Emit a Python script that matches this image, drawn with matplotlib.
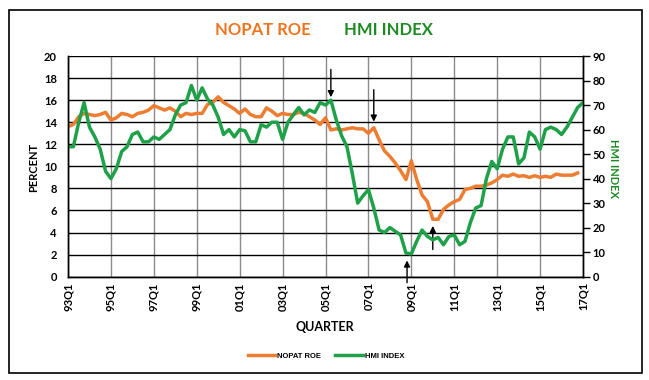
import numpy as np
import matplotlib.pyplot as plt
from matplotlib.lines import Line2D
from matplotlib.patches import Rectangle

# quarterly series, 93Q1 .. 17Q1
nopat_roe = [13.6, 13.8, 14.5, 14.8, 14.7, 14.6, 14.7, 14.9, 14.2, 14.4,
             14.8, 14.7, 14.5, 14.8, 14.9, 15.1, 15.5, 15.3, 15.1, 15.3,
             15.0, 14.5, 14.8, 14.7, 14.8, 14.8, 15.6, 15.8, 16.3, 15.8,
             15.5, 15.2, 14.8, 15.2, 14.7, 14.5, 14.5, 15.3, 15.0, 14.6,
             14.8, 14.7, 14.7, 14.9, 14.8, 14.5, 14.2, 13.8, 14.4, 13.3,
             13.4, 13.3, 13.4, 13.5, 13.4, 13.4, 13.0, 13.5, 12.4, 11.4,
             10.9, 10.3, 9.6, 8.8, 10.5, 8.8, 7.4, 6.8, 5.2, 5.2,
             6.1, 6.5, 6.8, 7.0, 7.9, 8.0, 8.2, 8.2, 8.3, 8.5,
             8.8, 9.2, 9.1, 9.3, 9.1, 9.15, 9.0, 9.15, 9.0, 9.1,
             9.0, 9.3, 9.2, 9.2, 9.2, 9.4]

hmi_index = [53, 53, 63, 71, 61, 57, 52, 43, 40, 44,
             51, 53, 58, 59, 55, 55, 57, 56, 58, 60,
             66, 70, 71, 78, 72, 77, 72.5, 70, 65, 58,
             60, 57, 60, 59.5, 55, 55, 62, 61, 63, 63,
             56, 63, 66, 69, 66, 68, 67, 71, 70, 72,
             64, 57.5, 53, 42, 30, 33, 35.5, 28, 19, 18,
             20, 18.5, 17, 9.6, 9.3, 14.4, 19, 16.4, 15, 16,
             13, 16.4, 17, 13, 14.4, 22, 28, 29, 40, 47,
             44, 52, 57, 57, 46, 48.5, 59, 57, 52, 60,
             61, 60, 58, 61, 65, 69, 71]

tick_labels = ['93Q1', '95Q1', '97Q1', '99Q1', '01Q1', '03Q1', '05Q1',
               '07Q1', '09Q1', '11Q1', '13Q1', '15Q1', '17Q1']

orange = '#ED7D31'
green = '#1FA14A'
title_orange = '#F0731E'
title_green = '#1E8A22'

plt.rcParams['font.family'] = ['Lato', 'DejaVu Sans']
plt.rcParams['font.weight'] = 'bold'

fig = plt.figure(figsize=(6.49, 3.80), dpi=100)
fig.patches.append(Rectangle((0.014, 0.018), 0.975, 0.956, transform=fig.transFigure,
                             fill=False, edgecolor='black', lw=1.2))

ax = fig.add_axes([0.1048, 0.272, 0.7935, 0.5805])
ax2 = ax.twinx()

ax.plot(np.arange(len(nopat_roe)), nopat_roe, color=orange, lw=2.5, solid_joinstyle='round')
ax2.plot(np.arange(len(hmi_index)), hmi_index, color=green, lw=2.5, solid_joinstyle='round')

ax.set_xlim(0, 96)
ax.set_ylim(0, 20)
ax2.set_ylim(0, 90)
ax.set_yticks(range(0, 21, 2))
ax2.set_yticks(range(0, 91, 10))
ax.set_xticks(range(0, 97, 8))
ax.set_xticklabels(tick_labels, rotation=90)

ax.grid(axis='y', color='black', lw=1)
ax.grid(axis='x', color='#8C8C8C', lw=1)
ax.set_axisbelow(True)

ax.tick_params(axis='y', length=0, pad=8, labelsize=8)
ax.tick_params(axis='x', length=0, pad=4, labelsize=8)
ax2.tick_params(axis='y', length=5, width=1, pad=2, labelsize=8)
for a in (ax, ax2):
    for s in a.spines.values():
        s.set_color('black')
        s.set_linewidth(1)
    a.spines['top'].set_visible(False)


# arrows pointing at turning points
def arrow(axis, q, val, length):
    axis.annotate('', xy=(q, val), xytext=(0, length), textcoords='offset points',
                  arrowprops=dict(arrowstyle='-|>', color='black', lw=1,
                                  mutation_scale=9, shrinkA=0, shrinkB=0),
                  annotation_clip=False)


arrow(ax2, 49, hmi_index[49] + 1.2, 20)
arrow(ax, 57, nopat_roe[57] + 0.55, 23)
arrow(ax2, 63.2, hmi_index[63] - 3, -16)
arrow(ax, 68, nopat_roe[68] - 0.6, -17)

fig.text(263 / 649, 1 - 30 / 380, 'NOPAT ROE', color=title_orange, fontsize=12,
         fontweight='bold', ha='center', va='center')
fig.text(388 / 649, 1 - 30 / 380, 'HMI INDEX', color=title_green, fontsize=12,
         fontweight='bold', ha='center', va='center')
fig.text(34 / 649, 1 - 167 / 380, 'PERCENT', rotation=90, fontsize=8,
         fontweight='bold', ha='center', va='center')
fig.text(614 / 649, 1 - 168 / 380, 'HMI INDEX', rotation=-90, fontsize=8,
         fontweight='bold', color=title_green, ha='center', va='center')
fig.text(325 / 649, 1 - 327 / 380, 'QUARTER', fontsize=9,
         fontweight='bold', ha='center', va='center')

handles = [Line2D([], [], color=orange, lw=2.5), Line2D([], [], color=green, lw=2.5)]
fig.legend(handles, ['NOPAT ROE', 'HMI INDEX'], loc='center',
           bbox_to_anchor=(326 / 649, 1 - 356 / 380), ncol=2, frameon=False,
           prop={'family': ['Liberation Sans', 'DejaVu Sans'], 'weight': 'bold', 'size': 5.5},
           handlelength=3.6, handletextpad=0.3, columnspacing=1.8)

fig.savefig('out.png', dpi=100)
